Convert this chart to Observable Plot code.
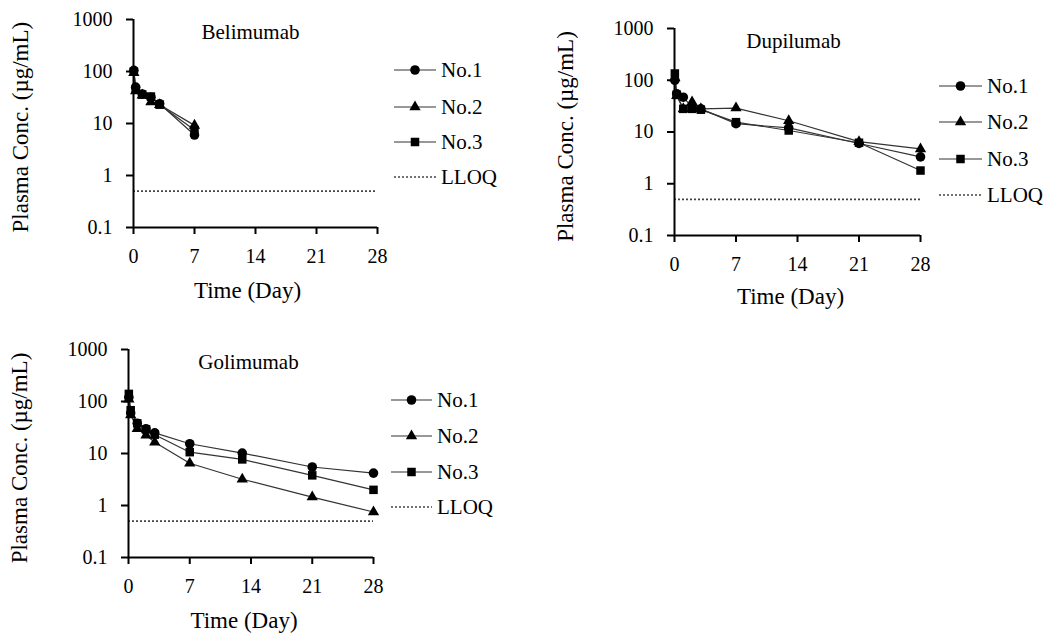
<!DOCTYPE html>
<html><head><meta charset="utf-8">
<script src="https://cdn.jsdelivr.net/npm/d3@7"></script>
<script src="https://cdn.jsdelivr.net/npm/@observablehq/plot@0.6"></script>
<style>
body{margin:0;background:#fff;}
#wrap{position:relative;width:1046px;height:644px;overflow:hidden;font-family:"Liberation Serif","Times New Roman",serif;background:#fff;}
.panel{position:absolute;}
.lrow{position:absolute;display:flex;align-items:center;font-size:21px;white-space:nowrap;height:24px;color:#000;font-family:"Liberation Serif","Times New Roman",serif;}
.lrow svg{display:block;overflow:visible;}
</style></head><body><div id="wrap"></div>
<script>
// ---------- data ----------
const seriesNames = ["No.1", "No.2", "No.3"];
const seriesSymbols = ["circle", "triangle", "square"];
const xTicks = [0, 7, 14, 21, 28];
const yTicks = [0.1, 1, 10, 100, 1000];
const lloq = 0.5;

const belimumabTime = [0.04, 0.25, 1, 2, 3, 7];
const belimumabNo1 = [105, 50, 37, 32, 24, 6];
const belimumabNo2 = [95, 42, 35, 26, 23, 9.2];
const belimumabNo3 = [100, 45, 36, 33, 23, 7.5];

const dupilumabTime = [0.04, 0.25, 1, 2, 3, 7, 13, 21, 28];
const dupilumabNo1 = [100, 55, 47, 30, 28, 14.5, 12, 6, 3.3];
const dupilumabNo2 = [110, 50, 28, 38, 28, 29, 16.5, 6.5, 4.7];
const dupilumabNo3 = [135, 52, 28, 28, 27, 15.5, 10.7, 6.2, 1.8];

const golimumabTime = [0.04, 0.25, 1, 2, 3, 7, 13, 21, 28];
const golimumabNo1 = [120, 60, 38, 30, 25, 15.4, 10.2, 5.5, 4.2];
const golimumabNo2 = [110, 55, 30, 22.5, 16.5, 6.5, 3.2, 1.45, 0.75];
const golimumabNo3 = [140, 68, 38, 29, 23, 10.6, 7.7, 3.8, 2.0];

// ---------- layout ----------
const FONT = '"Liberation Serif", "Times New Roman", serif';
const panels = [
  {name: "Belimumab", time: belimumabTime, values: [belimumabNo1, belimumabNo2, belimumabNo3],
   left: 0, top: 0, width: 520, height: 320, mL: 133, mR: 143, mT: 19, mB: 93,
   titleDx: -5, xlabDx: -8, xlabDy: 70.5, ylabDx: -112.5, ylabDy: 3.7,
   legend: {x: 394, lineW: 42, rows: [70, 107, 142, 177]}},
  {name: "Dupilumab", time: dupilumabTime, values: [dupilumabNo1, dupilumabNo2, dupilumabNo3],
   left: 520, top: 0, width: 526, height: 320, mL: 154, mR: 126, mT: 28, mB: 85,
   titleDx: -4, xlabDx: -7, xlabDy: 68.5, ylabDx: -108.5, ylabDy: 4.5,
   legend: {x: 939, lineW: 43, rows: [86, 122, 159, 195]}},
  {name: "Golimumab", time: golimumabTime, values: [golimumabNo1, golimumabNo2, golimumabNo3],
   left: 0, top: 320, width: 520, height: 324, mL: 128, mR: 147, mT: 29, mB: 87,
   titleDx: -2.5, xlabDx: -7, xlabDy: 70.5, ylabDx: -108.7, ylabDy: 4.5,
   legend: {x: 391, lineW: 41, rows: [400, 436, 472, 507]}}
];

const wrap = document.getElementById("wrap");
const dotR = s => (s === "No.2" ? 4.2 : 4.8);

for (const cfg of panels) {
  const data = seriesNames.flatMap((s, i) => cfg.time.map((t, j) => ({s, t, v: cfg.values[i][j]})));
  const chart = Plot.plot({
    width: cfg.width, height: cfg.height,
    marginLeft: cfg.mL, marginRight: cfg.mR, marginTop: cfg.mT, marginBottom: cfg.mB,
    style: {fontFamily: FONT, fontSize: "20px", color: "black", background: "transparent", overflow: "visible"},
    x: {domain: [0, 28]},
    y: {type: "log", domain: [0.1, 1000]},
    symbol: {domain: seriesNames, range: seriesSymbols},
    r: {type: "identity"},
    marks: [
      Plot.ruleY([lloq], {x1: 0, x2: 28, stroke: "#444", strokeWidth: 1.6, strokeDasharray: "2,2"}),
      Plot.line(data, {x: "t", y: "v", z: "s", stroke: "#333", strokeWidth: 1.2}),
      Plot.dot(data, {x: "t", y: "v", symbol: "s", fill: "black", stroke: "none", r: d => dotR(d.s)}),
      Plot.axisY({ticks: yTicks, tickFormat: d => String(d), tickSize: 7, tickPadding: 14, strokeWidth: 2, label: null, fontSize: 20, fontFamily: FONT, fontVariant: "normal"}),
      Plot.axisX({ticks: xTicks, tickSize: 7, tickPadding: 14, strokeWidth: 2, label: null, fontSize: 20, fontFamily: FONT, fontVariant: "normal"}),
      Plot.ruleX([0], {strokeWidth: 2}),
      Plot.ruleY([0.1], {strokeWidth: 2}),
      Plot.text([cfg.name], {text: d => d, frameAnchor: "top", textAnchor: "middle", dx: cfg.titleDx, dy: 4.5, fontSize: 21, fontFamily: FONT}),
      Plot.text(["Time (Day)"], {text: d => d, frameAnchor: "bottom", textAnchor: "middle", dx: cfg.xlabDx, dy: cfg.xlabDy, fontSize: 23, fontFamily: FONT}),
      Plot.text(["Plasma Conc. (µg/mL)"], {text: d => d, frameAnchor: "left", textAnchor: "middle", dx: cfg.ylabDx, dy: cfg.ylabDy, rotate: -90, fontSize: 23, fontFamily: FONT})
    ]
  });
  const holder = document.createElement("div");
  holder.className = "panel";
  holder.style.left = cfg.left + "px";
  holder.style.top = cfg.top + "px";
  holder.appendChild(chart);
  wrap.appendChild(holder);

  // legend
  const L = cfg.legend;
  const labels = [...seriesNames, "LLOQ"];
  labels.forEach((lab, i) => {
    const row = document.createElement("div");
    row.className = "lrow";
    row.style.left = L.x + "px";
    row.style.top = (L.rows[i] - 12) + "px";
    const w = L.lineW;
    let inner;
    if (i < 3) {
      const r = dotR(lab);
      const sym = seriesSymbols[i];
      const path = d3.symbol(d3["symbol" + sym[0].toUpperCase() + sym.slice(1)], Math.PI * r * r)();
      inner = `<line x1="0" x2="${w}" y1="12" y2="12" stroke="#333" stroke-width="1.2"/><path d="${path}" transform="translate(${w / 2},12)" fill="black"/>`;
    } else {
      inner = `<line x1="0" x2="${w}" y1="12" y2="12" stroke="#444" stroke-width="1.6" stroke-dasharray="2,2"/>`;
    }
    row.innerHTML = `<svg width="${w}" height="24">${inner}</svg><span style="margin-left:5px">${lab}</span>`;
    wrap.appendChild(row);
  });
}
</script></body></html>
